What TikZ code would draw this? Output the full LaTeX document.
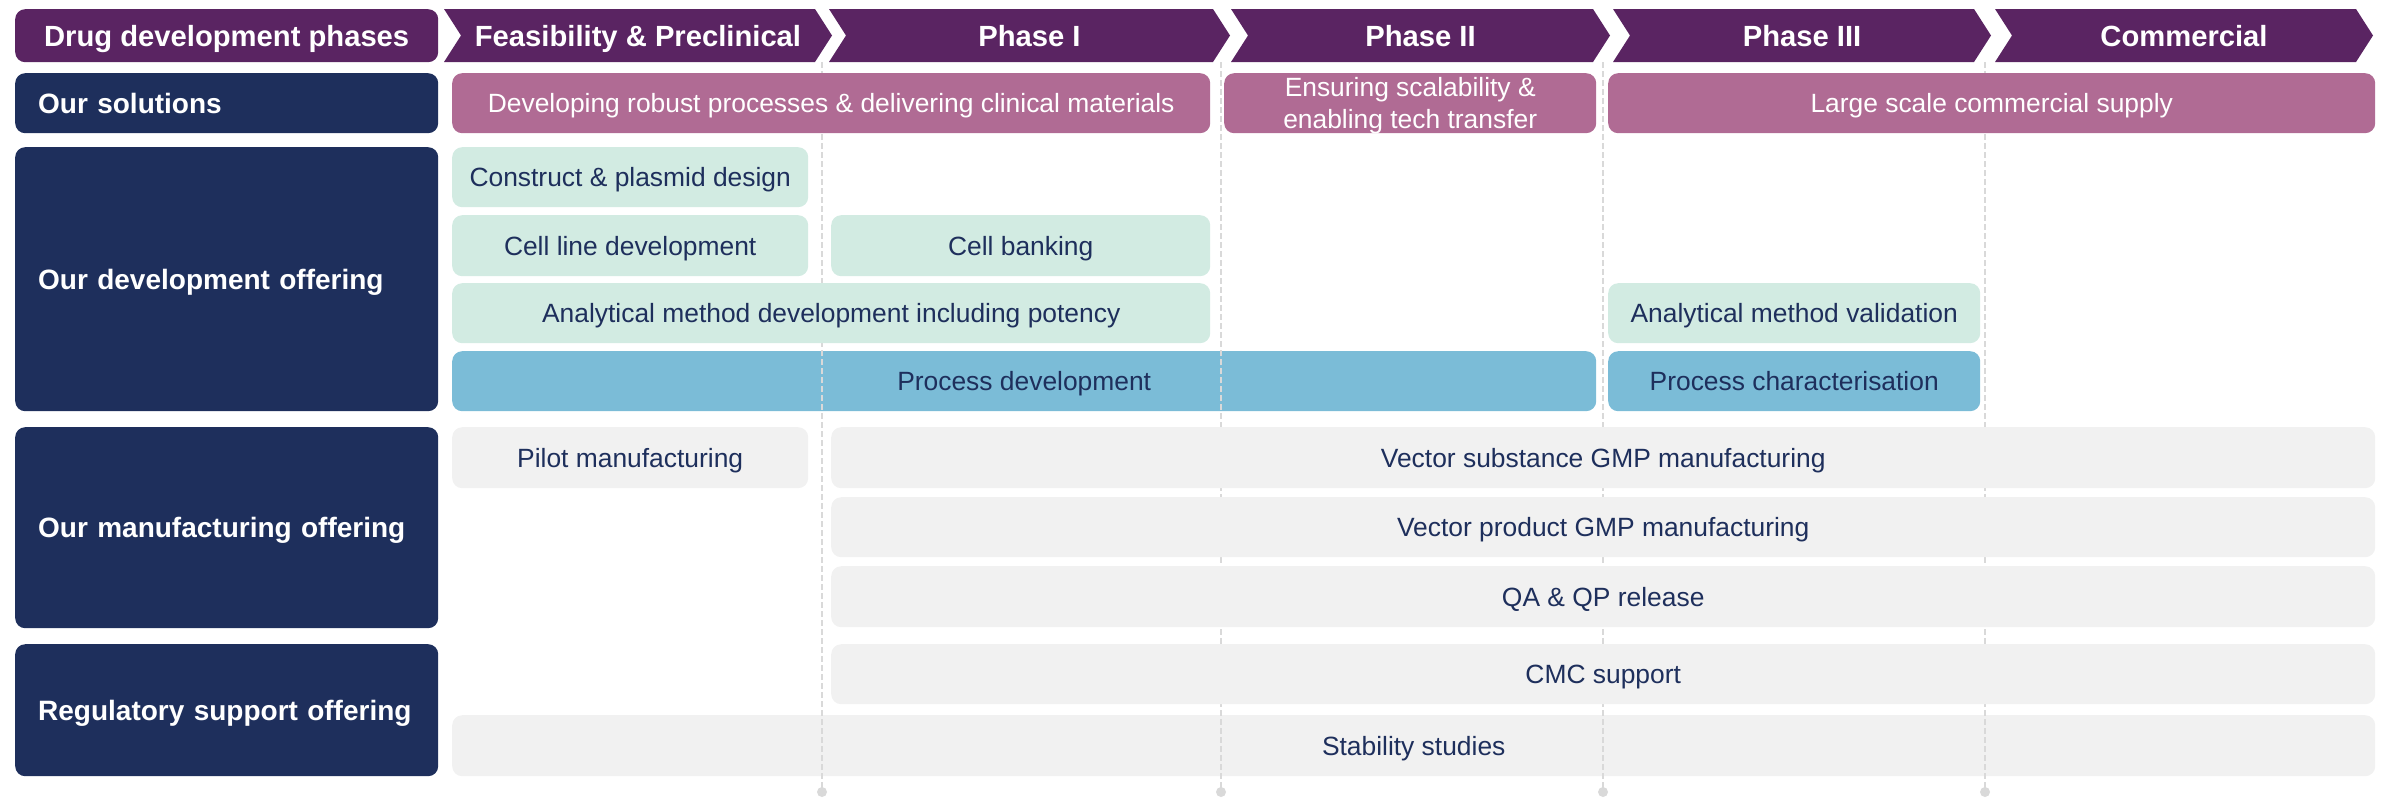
\documentclass[tikz,border=0pt]{standalone}
\usepackage{fontspec}
\setmainfont{Liberation Sans}
\usetikzlibrary{positioning}

\definecolor{phasepurple}{HTML}{5A2462}
\definecolor{navyblue}{HTML}{1E2F5C}
\definecolor{solpink}{HTML}{B06B94}
\definecolor{mintgreen}{HTML}{D2EBE2}
\definecolor{procblue}{HTML}{7BBCD7}
\definecolor{lightgrey}{HTML}{F1F1F1}
\definecolor{gapgrey}{HTML}{D9D9D9}

\newcommand{\headfont}{\fontsize{29.2}{34}\selectfont\bfseries}
\newcommand{\labelfont}{\fontsize{28}{33}\selectfont\bfseries}
\newcommand{\bodyfont}{\fontsize{26.4}{32}\selectfont}

\begin{document}
\begin{tikzpicture}[x=1pt,y=-1pt,
    bar/.style={rounded corners=10pt, inner sep=0pt, text depth=0pt, anchor=north west, align=center},
    rowlabel/.style={bar, fill=navyblue, text=white, font=\labelfont, align=left, text width=377pt, inner xsep=23pt},
    solution/.style={bar, fill=solpink, text=white, font=\bodyfont},
    devbox/.style={bar, fill=mintgreen, text=navyblue, font=\bodyfont},
    procbox/.style={bar, fill=procblue, text=navyblue, font=\bodyfont},
    mfgbox/.style={bar, fill=lightgrey, text=navyblue, font=\bodyfont},
    phasegap/.style={draw=gapgrey, line width=2pt, dash pattern=on 6pt off 3pt},
    ]
    \useasboundingbox (0,0) rectangle (2387,798);

    % header: phases as chevrons
    \node[bar, fill=phasepurple, text=white, font=\headfont, minimum width=423pt, minimum height=53pt] (phases) at (15,9) {Drug development phases};
    \foreach \a/\b/\name/\txt in {444/815/feas/{Feasibility \& Preclinical}, 829/1213/ph1/{Phase I}, 1231/1593/ph2/{Phase II}, 1613/1974/ph3/{Phase III}, 1995/2356/comm/{Commercial}} {
        \fill[phasepurple] (\a,9) -- (\b,9) -- (\b+17,35.5) -- (\b,62) -- (\a,62) -- (\a+17,35.5) -- cycle;
        \node[text=white, font=\headfont, inner sep=0pt, text depth=0pt] (\name) at ({(\a+\b)/2+8.5},35.5) {\txt};
    }

    % boxes that the phase lines run over
    \node[mfgbox, minimum width=1923pt, minimum height=61pt] (stab) at (452,715) {Stability studies};
    \node[procbox, minimum width=1144pt, minimum height=60pt] (procdev) at (452,351) {Process development};

    % phase boundaries
    \foreach \x/\name in {822/g1, 1221/g2, 1603/g3, 1985/g4} {
        \coordinate (\name-top) at (\x,62);
        \node[circle, fill=gapgrey, minimum size=10pt, inner sep=0pt] (\name-dot) at (\x,792) {};
        \draw[phasegap] (\name-top) -- (\name-dot.center);
    }

    % our solutions
    \node[rowlabel, minimum height=60pt] (sol) at (15,73) {Our solutions};
    \node[solution, minimum width=758pt, minimum height=60pt] (sol1) at (452,73) {Developing robust processes \& delivering clinical materials};
    \node[solution, minimum width=372pt, minimum height=60pt] (sol2) at (1224,73) {Ensuring scalability \&\\enabling tech transfer};
    \node[solution, minimum width=767pt, minimum height=60pt] (sol3) at (1608,73) {Large scale commercial supply};

    % development offering
    \node[rowlabel, minimum height=264pt] (dev) at (15,147) {Our development offering};
    \node[devbox, minimum width=356pt, minimum height=60pt] (construct) at (452,147) {Construct \& plasmid design};
    \node[devbox, minimum width=356pt, minimum height=61pt] (cellline) at (452,215) {Cell line development};
    \node[devbox, minimum width=379pt, minimum height=61pt] (cellbank) at (831,215) {Cell banking};
    \node[devbox, minimum width=758pt, minimum height=60pt] (anadev) at (452,283) {Analytical method development including potency};
    \node[devbox, minimum width=372pt, minimum height=60pt] (anaval) at (1608,283) {Analytical method validation};
    \node[procbox, minimum width=372pt, minimum height=60pt] (procchar) at (1608,351) {Process characterisation};

    % manufacturing offering
    \node[rowlabel, minimum height=201pt] (mfg) at (15,427) {Our manufacturing offering};
    \node[mfgbox, minimum width=356pt, minimum height=61pt] (pilot) at (452,427) {Pilot manufacturing};
    \node[mfgbox, minimum width=1544pt, minimum height=61pt] (vsub) at (831,427) {Vector substance GMP manufacturing};
    \node[mfgbox, minimum width=1544pt, minimum height=60pt] (vprod) at (831,497) {Vector product GMP manufacturing};
    \node[mfgbox, minimum width=1544pt, minimum height=61pt] (qaqp) at (831,566) {QA \& QP release};

    % regulatory support
    \node[rowlabel, minimum height=132pt] (reg) at (15,644) {Regulatory support offering};
    \node[mfgbox, minimum width=1544pt, minimum height=60pt] (cmc) at (831,644) {CMC support};
\end{tikzpicture}
\end{document}
